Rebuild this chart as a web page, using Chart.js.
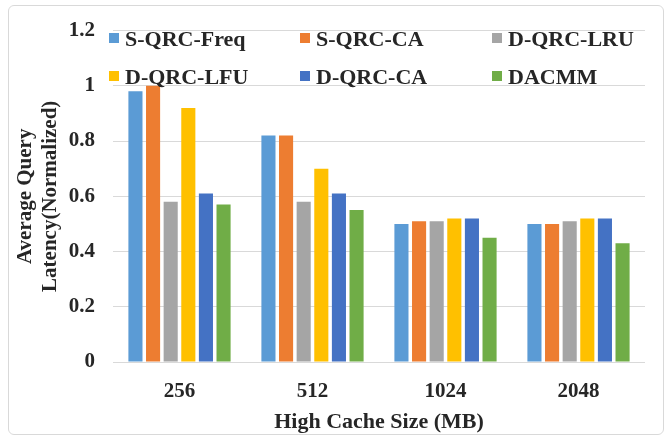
<!DOCTYPE html>
<html>
<head>
<meta charset="utf-8">
<script src="https://cdn.jsdelivr.net/npm/chart.js@4/dist/chart.umd.min.js"></script>
<style>
  html, body { margin: 0; padding: 0; background: #fff; }
  #wrap { position: relative; width: 667px; height: 436px; }
  #frame {
    position: absolute; left: 8px; top: 5px; width: 656px; height: 430px;
    border: 1px solid #d9d9d9; border-radius: 6px; box-sizing: border-box;
    pointer-events: none;
  }
  #legend {
    position: absolute; left: 0; top: 0; width: 667px; height: 100px;
    font: bold 22px "Liberation Serif", "Times New Roman", serif; color: #262626;
  }
  .item { position: absolute; white-space: nowrap; line-height: 22px; }
  .item span.box { position: absolute; left: 0; top: 5px; width: 10px; height: 10px; }
  .item span.txt { position: absolute; left: 16px; top: 0; }
  canvas { position: absolute; left: 0; top: 0; }
</style>
</head>
<body>
<div id="wrap">
  <canvas id="c" width="667" height="436"></canvas>
  <div id="legend"></div>
  <div id="frame"></div>
</div>
<script>
// Cache sizes on the x axis
const categories = ['256', '512', '1024', '2048'];

// Normalized average query latency per scheme
const seriesNames = ['S-QRC-Freq', 'S-QRC-CA', 'D-QRC-LRU', 'D-QRC-LFU', 'D-QRC-CA', 'DACMM'];
const sQrcFreq = [0.98, 0.82, 0.50, 0.50];
const sQrcCA   = [1.00, 0.82, 0.51, 0.50];
const dQrcLRU  = [0.58, 0.58, 0.51, 0.51];
const dQrcLFU  = [0.92, 0.70, 0.52, 0.52];
const dQrcCA   = [0.61, 0.61, 0.52, 0.52];
const dacmm    = [0.57, 0.55, 0.45, 0.43];

const seriesColors = ['#5B9BD5', '#ED7D31', '#A5A5A5', '#FFC000', '#4472C4', '#70AD47'];
const seriesValues = [sQrcFreq, sQrcCA, dQrcLRU, dQrcLFU, dQrcCA, dacmm];

const FONT = '"Liberation Serif", "Times New Roman", serif';
const TEXT = '#262626';

const datasets = seriesNames.map((name, i) => ({
  label: name,
  data: seriesValues[i],
  backgroundColor: seriesColors[i],
  borderWidth: 0,
  categoryPercentage: 0.795,
  barPercentage: 0.8
}));

new Chart(document.getElementById('c'), {
  type: 'bar',
  data: { labels: categories, datasets },
  options: {
    responsive: false,
    animation: false,
    devicePixelRatio: 1,
    layout: { padding: { left: 12, right: 22, top: 28, bottom: 0 } },
    plugins: { legend: { display: false }, tooltip: { enabled: false } },
    scales: {
      x: {
        grid: { display: false },
        border: { display: false },
        ticks: { color: TEXT, font: { family: FONT, size: 21, weight: 'bold' }, padding: 9 },
        title: {
          display: true, text: 'High Cache Size (MB)', color: TEXT,
          font: { family: FONT, size: 22, weight: 'bold' }, padding: { top: 0, bottom: 0 }
        },
        afterFit: s => { s.height = 74; }
      },
      y: {
        min: 0, max: 1.2,
        ticks: {
          stepSize: 0.2, color: TEXT, font: { family: FONT, size: 21, weight: 'bold' }, padding: 18,
          callback: v => String(+v.toFixed(1))
        },
        grid: { color: '#d9d9d9', lineWidth: 1, drawTicks: false },
        border: { display: false },
        title: {
          display: true, text: ['Average Query', 'Latency(Normalized)'], color: TEXT,
          font: { family: FONT, size: 21, weight: 'bold', lineHeight: 1.15 }, padding: { top: 2, bottom: 0 }
        },
        afterFit: s => { s.width = 101; }
      }
    }
  }
});

// Legend laid out as a 3 x 2 grid over the top of the plot
const legend = document.getElementById('legend');
const colX = [109, 300, 492];
const rowY = [28, 66];
seriesNames.forEach((name, i) => {
  const d = document.createElement('div');
  d.className = 'item';
  d.style.left = colX[i % 3] + 'px';
  d.style.top = rowY[Math.floor(i / 3)] + 'px';
  d.innerHTML = '<span class="box" style="background:' + seriesColors[i] + '"></span><span class="txt">' + name + '</span>';
  legend.appendChild(d);
});
</script>
</body>
</html>
